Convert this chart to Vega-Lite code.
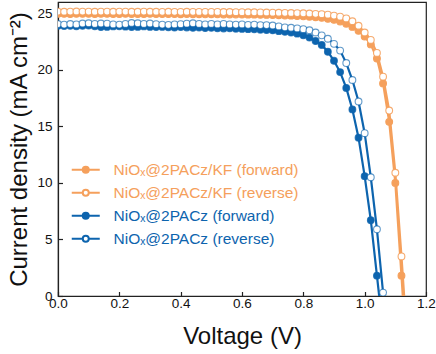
{
"$schema": "https://vega.github.io/schema/vega-lite/v6.json",
"width": 368, "height": 294,
"autosize": {"type": "none"},
"padding": {"left": 58, "top": 2, "right": 10, "bottom": 58},
"background": "white",
"config": {
  "view": {"stroke": "#222", "strokeWidth": 1.2},
  "font": "Liberation Sans",
  "axis": {"domainColor": "#222", "domainWidth": 1.2, "tickColor": "#222", "tickWidth": 1.2, "labelFont": "Liberation Sans", "labelFontSize": 13.5, "labelColor": "#111", "titleFont": "Liberation Sans", "titleFontSize": 24, "titleFontWeight": "normal", "titleColor": "#111", "grid": false}
},
"data": {"values": [
{"s":"a","v":0,"j":24.95},{"s":"a","v":0.02,"j":24.95},{"s":"a","v":0.04,"j":24.93},{"s":"a","v":0.06,"j":24.95},{"s":"a","v":0.08,"j":24.96},{"s":"a","v":0.1,"j":24.95},{"s":"a","v":0.12,"j":24.94},{"s":"a","v":0.14,"j":24.95},{"s":"a","v":0.16,"j":24.95},{"s":"a","v":0.18,"j":24.93},{"s":"a","v":0.2,"j":24.94},{"s":"a","v":0.22,"j":24.95},{"s":"a","v":0.24,"j":24.94},{"s":"a","v":0.26,"j":24.93},{"s":"a","v":0.28,"j":24.94},{"s":"a","v":0.3,"j":24.95},{"s":"a","v":0.32,"j":24.93},{"s":"a","v":0.34,"j":24.93},{"s":"a","v":0.36,"j":24.94},{"s":"a","v":0.38,"j":24.93},{"s":"a","v":0.4,"j":24.92},{"s":"a","v":0.42,"j":24.93},{"s":"a","v":0.44,"j":24.92},{"s":"a","v":0.46,"j":24.92},{"s":"a","v":0.48,"j":24.91},{"s":"a","v":0.5,"j":24.92},{"s":"a","v":0.52,"j":24.91},{"s":"a","v":0.54,"j":24.9},{"s":"a","v":0.56,"j":24.9},{"s":"a","v":0.58,"j":24.9},{"s":"a","v":0.6,"j":24.89},{"s":"a","v":0.62,"j":24.88},{"s":"a","v":0.64,"j":24.88},{"s":"a","v":0.66,"j":24.87},{"s":"a","v":0.68,"j":24.86},{"s":"a","v":0.7,"j":24.85},{"s":"a","v":0.72,"j":24.83},{"s":"a","v":0.74,"j":24.81},{"s":"a","v":0.76,"j":24.79},{"s":"a","v":0.78,"j":24.76},{"s":"a","v":0.8,"j":24.73},{"s":"a","v":0.82,"j":24.7},{"s":"a","v":0.84,"j":24.65},{"s":"a","v":0.86,"j":24.6},{"s":"a","v":0.88,"j":24.52},{"s":"a","v":0.9,"j":24.42},{"s":"a","v":0.92,"j":24.28},{"s":"a","v":0.94,"j":24.08},{"s":"a","v":0.96,"j":23.8},{"s":"a","v":0.98,"j":23.45},{"s":"a","v":1.0,"j":22.95},{"s":"a","v":1.02,"j":22.25},{"s":"a","v":1.04,"j":21.0},{"s":"a","v":1.06,"j":18.8},{"s":"a","v":1.08,"j":15.4},{"s":"a","v":1.1,"j":10.0},{"s":"a","v":1.12,"j":1.8},{"s":"a","v":1.14,"j":-6.5},
{"s":"b","v":0,"j":25.15},{"s":"b","v":0.02,"j":25.14},{"s":"b","v":0.04,"j":25.15},{"s":"b","v":0.06,"j":25.16},{"s":"b","v":0.08,"j":25.15},{"s":"b","v":0.1,"j":25.15},{"s":"b","v":0.12,"j":25.14},{"s":"b","v":0.14,"j":25.15},{"s":"b","v":0.16,"j":25.15},{"s":"b","v":0.18,"j":25.14},{"s":"b","v":0.2,"j":25.15},{"s":"b","v":0.22,"j":25.15},{"s":"b","v":0.24,"j":25.14},{"s":"b","v":0.26,"j":25.14},{"s":"b","v":0.28,"j":25.15},{"s":"b","v":0.3,"j":25.14},{"s":"b","v":0.32,"j":25.14},{"s":"b","v":0.34,"j":25.13},{"s":"b","v":0.36,"j":25.14},{"s":"b","v":0.38,"j":25.13},{"s":"b","v":0.4,"j":25.13},{"s":"b","v":0.42,"j":25.14},{"s":"b","v":0.44,"j":25.13},{"s":"b","v":0.46,"j":25.12},{"s":"b","v":0.48,"j":25.13},{"s":"b","v":0.5,"j":25.12},{"s":"b","v":0.52,"j":25.12},{"s":"b","v":0.54,"j":25.11},{"s":"b","v":0.56,"j":25.11},{"s":"b","v":0.58,"j":25.1},{"s":"b","v":0.6,"j":25.1},{"s":"b","v":0.62,"j":25.09},{"s":"b","v":0.64,"j":25.09},{"s":"b","v":0.66,"j":25.08},{"s":"b","v":0.68,"j":25.07},{"s":"b","v":0.7,"j":25.06},{"s":"b","v":0.72,"j":25.05},{"s":"b","v":0.74,"j":25.04},{"s":"b","v":0.76,"j":25.03},{"s":"b","v":0.78,"j":25.02},{"s":"b","v":0.8,"j":25.0},{"s":"b","v":0.82,"j":24.98},{"s":"b","v":0.84,"j":24.95},{"s":"b","v":0.86,"j":24.92},{"s":"b","v":0.88,"j":24.88},{"s":"b","v":0.9,"j":24.8},{"s":"b","v":0.92,"j":24.7},{"s":"b","v":0.94,"j":24.55},{"s":"b","v":0.96,"j":24.3},{"s":"b","v":0.98,"j":23.9},{"s":"b","v":1.0,"j":23.3},{"s":"b","v":1.02,"j":22.65},{"s":"b","v":1.04,"j":21.5},{"s":"b","v":1.06,"j":19.4},{"s":"b","v":1.08,"j":16.4},{"s":"b","v":1.1,"j":10.9},{"s":"b","v":1.12,"j":3.5},{"s":"b","v":1.14,"j":-4.5},
{"s":"c","v":0,"j":23.9},{"s":"c","v":0.02,"j":23.88},{"s":"c","v":0.04,"j":23.9},{"s":"c","v":0.06,"j":23.86},{"s":"c","v":0.08,"j":23.9},{"s":"c","v":0.1,"j":23.92},{"s":"c","v":0.12,"j":23.85},{"s":"c","v":0.14,"j":23.78},{"s":"c","v":0.16,"j":23.8},{"s":"c","v":0.18,"j":23.84},{"s":"c","v":0.2,"j":23.86},{"s":"c","v":0.22,"j":23.82},{"s":"c","v":0.24,"j":23.78},{"s":"c","v":0.26,"j":23.8},{"s":"c","v":0.28,"j":23.84},{"s":"c","v":0.3,"j":23.8},{"s":"c","v":0.32,"j":23.78},{"s":"c","v":0.34,"j":23.8},{"s":"c","v":0.36,"j":23.76},{"s":"c","v":0.38,"j":23.74},{"s":"c","v":0.4,"j":23.78},{"s":"c","v":0.42,"j":23.75},{"s":"c","v":0.44,"j":23.72},{"s":"c","v":0.46,"j":23.74},{"s":"c","v":0.48,"j":23.7},{"s":"c","v":0.5,"j":23.72},{"s":"c","v":0.52,"j":23.68},{"s":"c","v":0.54,"j":23.66},{"s":"c","v":0.56,"j":23.68},{"s":"c","v":0.58,"j":23.64},{"s":"c","v":0.6,"j":23.62},{"s":"c","v":0.62,"j":23.6},{"s":"c","v":0.64,"j":23.58},{"s":"c","v":0.66,"j":23.55},{"s":"c","v":0.68,"j":23.52},{"s":"c","v":0.7,"j":23.5},{"s":"c","v":0.72,"j":23.42},{"s":"c","v":0.74,"j":23.36},{"s":"c","v":0.76,"j":23.3},{"s":"c","v":0.78,"j":23.2},{"s":"c","v":0.8,"j":23.05},{"s":"c","v":0.82,"j":22.85},{"s":"c","v":0.84,"j":22.55},{"s":"c","v":0.86,"j":22.2},{"s":"c","v":0.88,"j":21.6},{"s":"c","v":0.9,"j":20.8},{"s":"c","v":0.92,"j":19.8},{"s":"c","v":0.94,"j":18.4},{"s":"c","v":0.96,"j":16.5},{"s":"c","v":0.98,"j":14.0},{"s":"c","v":1.0,"j":10.6},{"s":"c","v":1.02,"j":6.7},{"s":"c","v":1.04,"j":1.8},{"s":"c","v":1.06,"j":-3.1},
{"s":"d","v":0,"j":24.05},{"s":"d","v":0.02,"j":24.0},{"s":"d","v":0.04,"j":24.05},{"s":"d","v":0.06,"j":24.02},{"s":"d","v":0.08,"j":24.1},{"s":"d","v":0.1,"j":24.12},{"s":"d","v":0.12,"j":24.06},{"s":"d","v":0.14,"j":24.1},{"s":"d","v":0.16,"j":24.08},{"s":"d","v":0.18,"j":24.02},{"s":"d","v":0.2,"j":24.0},{"s":"d","v":0.22,"j":24.06},{"s":"d","v":0.24,"j":24.14},{"s":"d","v":0.26,"j":24.12},{"s":"d","v":0.28,"j":24.06},{"s":"d","v":0.3,"j":24.1},{"s":"d","v":0.32,"j":24.04},{"s":"d","v":0.34,"j":24.0},{"s":"d","v":0.36,"j":23.98},{"s":"d","v":0.38,"j":24.02},{"s":"d","v":0.4,"j":24.04},{"s":"d","v":0.42,"j":24.08},{"s":"d","v":0.44,"j":24.12},{"s":"d","v":0.46,"j":24.06},{"s":"d","v":0.48,"j":24.02},{"s":"d","v":0.5,"j":24.06},{"s":"d","v":0.52,"j":24.02},{"s":"d","v":0.54,"j":24.06},{"s":"d","v":0.56,"j":24.02},{"s":"d","v":0.58,"j":24.0},{"s":"d","v":0.6,"j":24.02},{"s":"d","v":0.62,"j":23.98},{"s":"d","v":0.64,"j":24.0},{"s":"d","v":0.66,"j":23.96},{"s":"d","v":0.68,"j":23.96},{"s":"d","v":0.7,"j":23.92},{"s":"d","v":0.72,"j":23.84},{"s":"d","v":0.74,"j":23.76},{"s":"d","v":0.76,"j":23.72},{"s":"d","v":0.78,"j":23.66},{"s":"d","v":0.8,"j":23.6},{"s":"d","v":0.82,"j":23.5},{"s":"d","v":0.84,"j":23.3},{"s":"d","v":0.86,"j":23.05},{"s":"d","v":0.88,"j":22.75},{"s":"d","v":0.9,"j":22.3},{"s":"d","v":0.92,"j":21.7},{"s":"d","v":0.94,"j":20.6},{"s":"d","v":0.96,"j":19.1},{"s":"d","v":0.98,"j":17.2},{"s":"d","v":1.0,"j":14.4},{"s":"d","v":1.02,"j":10.5},{"s":"d","v":1.04,"j":5.9},{"s":"d","v":1.06,"j":0.3}
]},
"layer": [
{
  "mark": {"type": "line", "strokeWidth": 2.2, "clip": true},
  "encoding": {
    "x": {"field": "v", "type": "quantitative", "scale": {"domain": [0, 1.2], "nice": false},
      "axis": {"title": "Voltage (V)", "orient": "bottom", "values": [0,0.1,0.2,0.3,0.4,0.5,0.6,0.7,0.8,0.9,1.0,1.1,1.2],
        "labelExpr": "round(datum.value*10)%2==0 ? format(datum.value,'.1f') : ''",
        "tickSize": {"condition": {"test": "round(datum.value*10)%2==1", "value": -2.5}, "value": -4.5},
        "labelPadding": 5, "titlePadding": 14, "labelFlush": false, "labelOverlap": false}},
    "y": {"field": "j", "type": "quantitative", "scale": {"domain": [0, 26], "nice": false},
      "axis": {"title": "Current density (mA cm⁻²)", "orient": "left", "values": [0,2.5,5,7.5,10,12.5,15,17.5,20,22.5,25],
        "labelExpr": "datum.value%5==0 ? datum.label : ''",
        "tickSize": {"condition": {"test": "datum.value%5!=0", "value": -2.5}, "value": -4.5},
        "labelPadding": 10.5, "titlePadding": 5, "labelFlush": false, "labelOverlap": false}},
    "stroke": {"field": "s", "type": "nominal",
      "scale": {"domain": ["a","b","c","d"], "range": ["#F5A05C","#F5A05C","#0D64AE","#0D64AE"]},
      "legend": {"orient": "none", "legendX": 20, "legendY": 160, "title": null, "padding": 0,
        "symbolType": "M-3.5,0L-0.75,0M0.75,0L3.5,0M0.75,0A0.75,0.75,0,1,1,-0.75,0A0.75,0.75,0,1,1,0.75,0Z",
        "symbolSize": 64, "symbolStrokeWidth": 2, "labelFont": "Liberation Sans", "labelFontSize": 15.5, "labelOffset": 20, "rowPadding": 6, "labelLimit": 400,
        "labelExpr": "datum.value=='a' ? 'NiOₓ@2PACz/KF (forward)' : datum.value=='b' ? 'NiOₓ@2PACz/KF (reverse)' : datum.value=='c' ? 'NiOₓ@2PACz (forward)' : 'NiOₓ@2PACz (reverse)'",
        "encode": {"labels": {"update": {"fill": {"signal": "(datum.value=='a' || datum.value=='b') ? '#F5A05C' : '#0D64AE'"}}}}}}
  }
},
{
  "mark": {"type": "point", "shape": "circle", "size": 46, "strokeWidth": 1.1, "opacity": 1, "clip": true},
  "encoding": {
    "x": {"field": "v", "type": "quantitative"},
    "y": {"field": "j", "type": "quantitative"},
    "stroke": {"field": "s", "type": "nominal"},
    "fill": {"field": "s", "type": "nominal",
      "scale": {"domain": ["a","b","c","d"], "range": ["#F5A05C","#FFFFFF","#0D64AE","#FFFFFF"]},
      "legend": {"orient": "none", "legendX": 20, "legendY": 160, "title": null, "padding": 0,
        "symbolType": "M-3.5,0L-0.75,0M0.75,0L3.5,0M0.75,0A0.75,0.75,0,1,1,-0.75,0A0.75,0.75,0,1,1,0.75,0Z",
        "symbolSize": 64, "symbolStrokeWidth": 2, "labelFont": "Liberation Sans", "labelFontSize": 15.5, "labelOffset": 20, "rowPadding": 6, "labelLimit": 400,
        "labelExpr": "datum.value=='a' ? 'NiOₓ@2PACz/KF (forward)' : datum.value=='b' ? 'NiOₓ@2PACz/KF (reverse)' : datum.value=='c' ? 'NiOₓ@2PACz (forward)' : 'NiOₓ@2PACz (reverse)'",
        "encode": {"labels": {"update": {"fill": {"signal": "(datum.value=='a' || datum.value=='b') ? '#F5A05C' : '#0D64AE'"}}}}}},
    "strokeOpacity": {"field": "s", "type": "nominal", "scale": {"domain": ["a","b","c","d"], "range": [1,0.65,1,0.65]}, "legend": null}
  }
}
]
}
